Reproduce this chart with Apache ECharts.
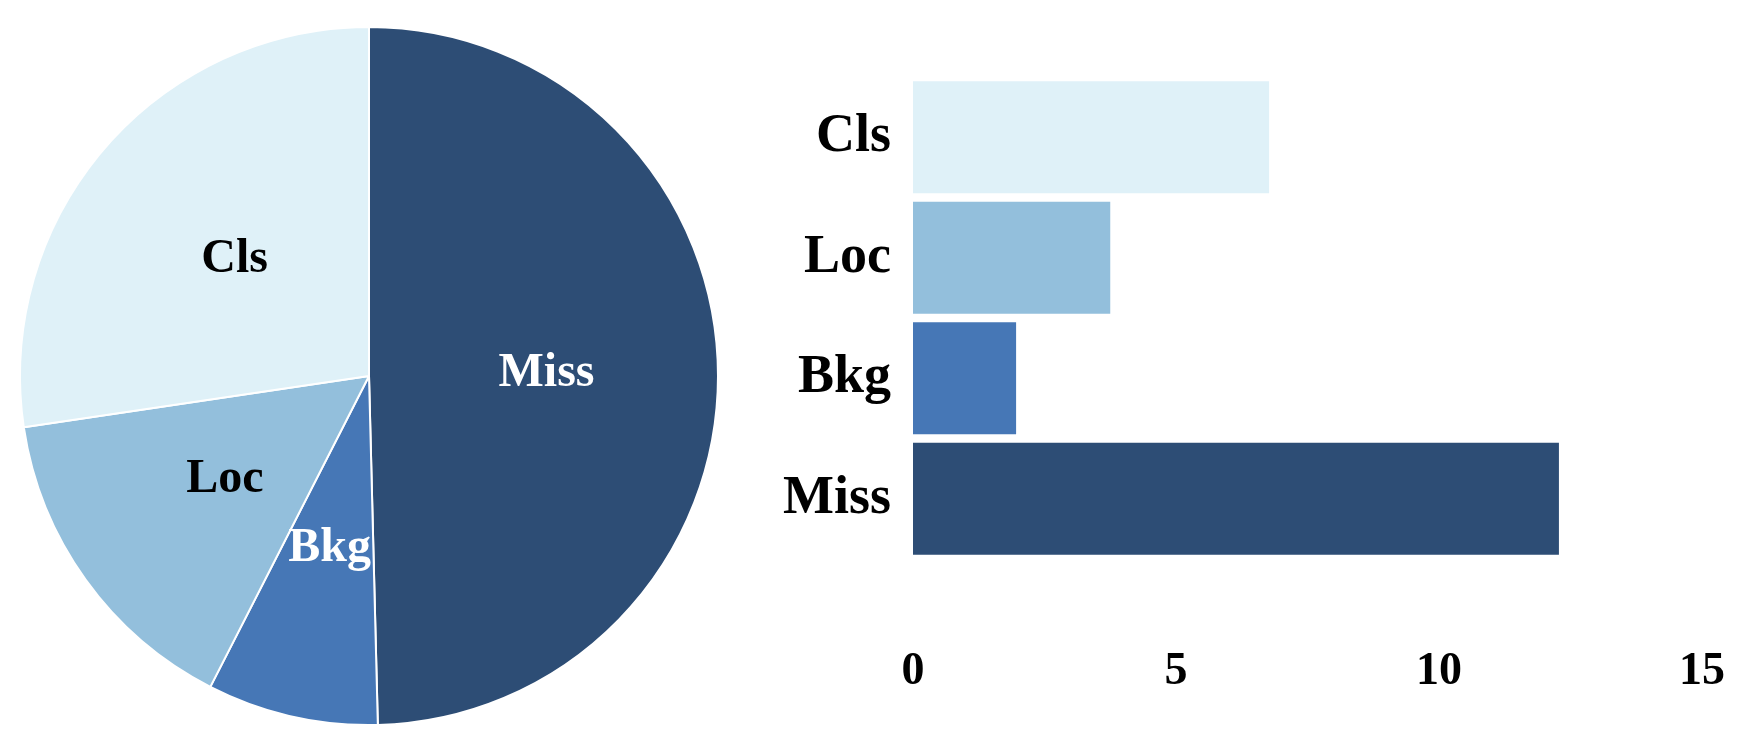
<!DOCTYPE html><html><head><meta charset="utf-8"><script src="https://cdn.jsdelivr.net/npm/echarts@6/dist/echarts.min.js"></script>
<style>html,body{margin:0;background:#fff}#c{width:1738px;height:754px}</style></head><body><div id="c"></div><script>
const categories=['Miss','Bkg','Loc','Cls'];
const values=[12.28,1.96,3.75,6.77];
const colors=['#2d4d75','#4677b6','#93bfdc','#dff1f8'];
const labelColors=['#fff','#fff','#000','#000'];
const xTicks=[0,5,10,15];
const font='"Liberation Serif", "Times New Roman", serif';
const chart=echarts.init(document.getElementById('c'));
chart.setOption({animation:false,
grid:{left:913,right:36,top:77,bottom:195},
xAxis:{type:'value',min:0,max:15,interval:5,splitLine:{show:false},axisLine:{show:false},axisTick:{show:false},
 axisLabel:{margin:90,fontFamily:font,fontWeight:'bold',fontSize:46,color:'#000'}},
yAxis:{type:'category',data:categories,axisLine:{show:false},axisTick:{show:false},
 axisLabel:{margin:22,fontFamily:font,fontWeight:'bold',fontSize:54,color:'#000'}},
series:[{type:'bar',data:values.map((v,i)=>({value:v,itemStyle:{color:colors[i]}})),barCategoryGap:'7%'},
{type:'pie',center:[369,376],radius:349,startAngle:90,clockwise:true,
 itemStyle:{borderColor:'#fff',borderWidth:2},
 data:categories.map((c,i)=>({name:c,value:values[i],itemStyle:{color:colors[i]},label:{color:labelColors[i]}})),
 label:{position:'inside',formatter:'{b}',fontFamily:font,fontWeight:'bold',fontSize:48},labelLine:{show:false}}]
});
</script></body></html>
